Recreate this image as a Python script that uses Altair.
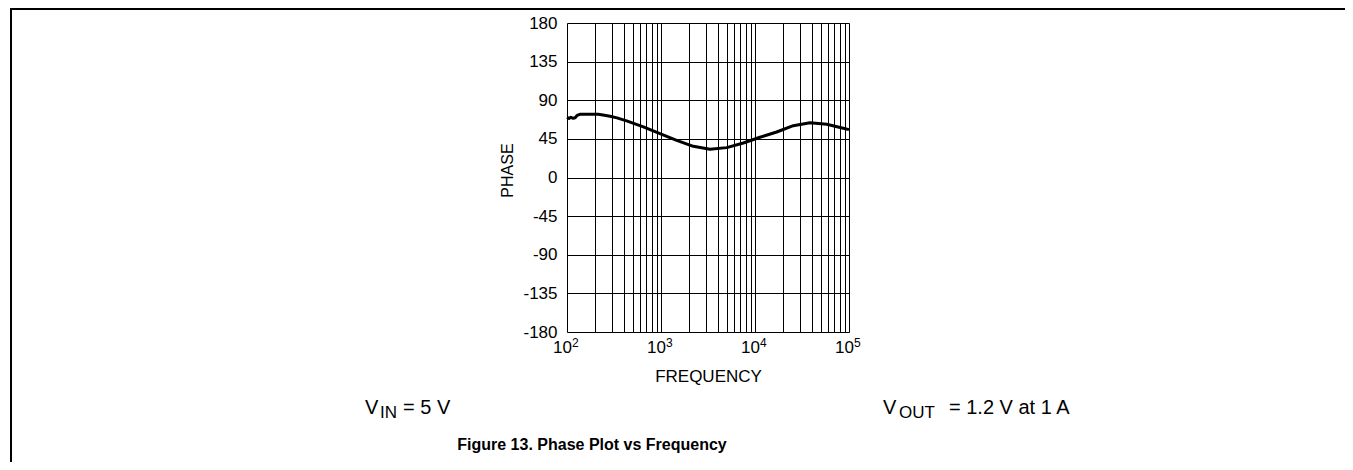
import altair as alt
import pandas as pd

# ---- data ----
freq = [100, 105, 110, 116, 122, 128, 137, 160, 190, 215, 250, 287, 340, 431,
        649, 975, 1468, 2208, 3318, 5000, 7516, 11300, 17000, 25550, 38460,
        57900, 86900, 100000]
phase = [70.0, 68.8, 70.2, 69.0, 69.6, 72.3, 73.6, 73.8, 73.7, 73.6, 72.6,
         71.3, 69.5, 65.9, 58.9, 51.1, 43.3, 36.3, 32.8, 34.8, 40.2, 46.9,
         53.0, 60.4, 63.9, 62.0, 57.3, 55.8]

x_ticks = [m * d for d in [100, 1000, 10000] for m in range(1, 10)] + [100000]
decades = [100, 1000, 10000, 100000]
dec_base = ["10", "10", "10", "10"]
dec_exp = ["2", "3", "4", "5"]
y_ticks = [-180, -135, -90, -45, 0, 45, 90, 135, 180]
x_title = "FREQUENCY"
y_title = "PHASE"
caption = "Figure 13. Phase Plot vs Frequency"
vin_parts = ["V", "IN", "= 5 V"]
vout_parts = ["V", "OUT", "= 1.2 V at 1 A"]

FONT = "Liberation Sans"
W, H = 282, 309

df = pd.DataFrame({"f": freq, "p": phase})
one = pd.DataFrame({"a": [0]})
dec_df = pd.DataFrame({"f": decades, "b": dec_base, "e": dec_exp})

xscale = alt.Scale(type="log", domain=[100, 100000], nice=False)
yscale = alt.Scale(domain=[-180, 180], nice=False)

line = alt.Chart(df).mark_line(color="black", strokeWidth=3, strokeJoin="round").encode(
    x=alt.X("f:Q", scale=xscale,
            axis=alt.Axis(values=x_ticks, labels=False, grid=True,
                          gridColor="black", gridWidth=1, gridOpacity=1,
                          ticks=False, domain=False,
                          title=x_title, titleFont=FONT, titleFontSize=17,
                          titleFontWeight="normal", titleColor="black",
                          titleBaseline="alphabetic", titleY=49)),
    y=alt.Y("p:Q", scale=yscale,
            axis=alt.Axis(values=y_ticks, grid=True, gridColor="black",
                          labelExpr="'' + datum.value",
                          gridWidth=1, gridOpacity=1, ticks=False, domain=False,
                          labelPadding=10, labelFontSize=17, labelColor="black",
                          labelFont=FONT, labelFlush=False, labelOverlap=False,
                          title=y_title, titleFont=FONT, titleFontSize=16,
                          titleFontWeight="normal", titleColor="black",
                          titleX=-52, titleY=147)),
)

dec_base_lbl = alt.Chart(dec_df).mark_text(
    font=FONT, fontSize=17, align="right", baseline="alphabetic", color="black", dx=5
).encode(x=alt.X("f:Q", scale=xscale), y=alt.value(H + 21), text="b:N")
dec_exp_lbl = alt.Chart(dec_df).mark_text(
    font=FONT, fontSize=12, align="left", baseline="alphabetic", color="black", dx=5
).encode(x=alt.X("f:Q", scale=xscale), y=alt.value(H + 15), text="e:N")


def txt(s, x, y, size, weight="normal", align="left"):
    return alt.Chart(pd.DataFrame({"t": [s]})).mark_text(
        font=FONT, fontSize=size, fontWeight=weight, align=align,
        baseline="alphabetic", color="black").encode(
        text="t:N", x=alt.value(x), y=alt.value(y))


texts = [
    txt(vin_parts[0], -202, 391, 20),
    txt(vin_parts[1], -187, 395, 17),
    txt(vin_parts[2], -164, 391, 20),
    txt(vout_parts[0], 316, 391, 20),
    txt(vout_parts[1], 332, 395, 17),
    txt(vout_parts[2], 382, 391, 20),
    txt(caption, 25, 427, 16, weight="bold", align="center"),
]

frame_top = alt.Chart(one).mark_rule(color="black", strokeWidth=2).encode(
    x=alt.value(-556), x2=alt.value(778), y=alt.value(-14))
frame_left = alt.Chart(one).mark_rule(color="black", strokeWidth=2).encode(
    x=alt.value(-556), y=alt.value(-15), y2=alt.value(440))

chart = alt.layer(line, dec_base_lbl, dec_exp_lbl, frame_top, frame_left, *texts).properties(
    width=W, height=H,
    autosize=alt.AutoSizeParams(type="none"),
    padding={"left": 559, "top": 15, "right": 496, "bottom": 130},
).configure_view(stroke="black", strokeWidth=1.5).configure(background="white")

chart.save("out.html", embed_options={"renderer": "svg", "actions": False})
